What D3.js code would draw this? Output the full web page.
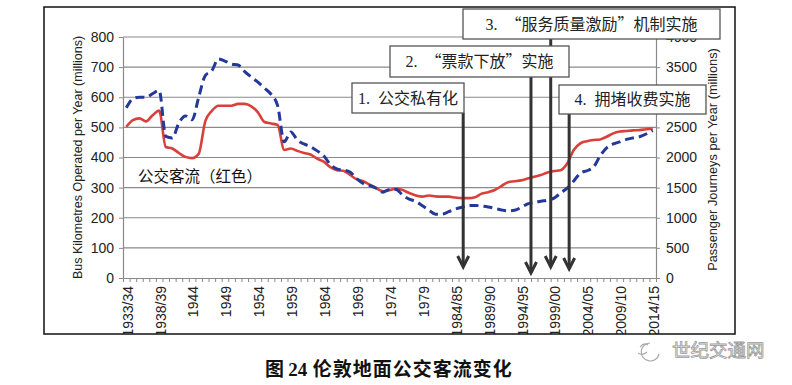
<!DOCTYPE html>
<html><head><meta charset="utf-8">
<script src="https://cdn.jsdelivr.net/npm/d3@7"></script>
<style>body{margin:0;background:#fff}svg{display:block}</style>
</head><body><svg id="c" width="792" height="385"></svg>
<script>
// ---------- data ----------
const categories = [
"1933/34","1934/35","1935/36","1936/37","1937/38","1938/39","1939/40","1940/41","1941/42","1942/43",
"1944","1945","1946","1947","1948","1949","1950","1951","1952","1953",
"1954","1955","1956","1957","1958","1959","1960","1961","1962","1963",
"1964","1965","1966","1967","1968","1969","1970","1971","1972","1973",
"1974","1975","1976","1977","1978","1979","1980","1981","1982","1983",
"1984/85","1985/86","1986/87","1987/88","1988/89","1989/90","1990/91","1991/92","1992/93","1993/94",
"1994/95","1995/96","1996/97","1997/98","1998/99","1999/00","2000/01","2001/02","2002/03","2003/04",
"2004/05","2005/06","2006/07","2007/08","2008/09","2009/10","2010/11","2011/12","2012/13","2013/14",
"2014/15"];
const tickLabels = ["1933/34","1938/39","1944","1949","1954","1959","1964","1969","1974","1979",
"1984/85","1989/90","1994/95","1999/00","2004/05","2009/10","2014/15"];
// Bus kilometres operated per year (millions) - left axis, blue dashed
const busKm = [565,595,600,600,612,622,470,465,515,538,
525,600,672,688,727,720,710,707,685,667,
650,630,610,572,452,485,458,445,436,422,
406,377,362,358,352,330,314,307,298,285,
294,294,275,262,254,240,225,212,212,220,
229,235,240,241,239,236,231,226,223,225,
234,246,250,255,258,265,282,298,322,348,
356,368,405,432,445,452,460,465,469,478,
490];
// Passenger journeys per year (millions) - right axis, red
const journeys = [2510,2620,2650,2600,2700,2780,2175,2150,2075,2010,
1990,2060,2600,2775,2860,2860,2860,2890,2890,2850,
2750,2590,2565,2540,2125,2150,2110,2075,2050,1980,
1930,1840,1790,1780,1710,1640,1605,1550,1490,1440,
1455,1485,1460,1410,1370,1350,1370,1355,1350,1350,
1335,1325,1325,1340,1400,1425,1460,1525,1590,1605,
1620,1650,1680,1710,1750,1775,1790,1900,2125,2235,
2270,2290,2300,2345,2400,2430,2440,2450,2455,2470,
2480];
const leftTicks = [0,100,200,300,400,500,600,700,800];
const rightTicks = [0,500,1000,1500,2000,2500,3000,3500,4000];
// policy events: position on category index, arrow tip in journeys units
const eventLabels = ["1. 公交私有化","2. “票款下放”实施","3. “服务质量激励”机制实施","4. 拥堵收费实施"];
const eventAt = [51.2, 61.5, 64.5, 67.3];
const eventTip = [183, 83, 183, 150];
const seriesLabel = "公交客流（红色）";
const leftTitle = "Bus Kilometres Operated per Year (millions)";
const rightTitle = "Passenger Journeys per Year (millions)";
const caption = ["图 ", "24", " 伦敦地面公交客流变化"];
const watermark = "世纪交通网";

// ---------- layout ----------
const svg = d3.select("#c");
const P = {l:123, r:656, t:37, b:278};
const frame = {x:44, y:7, w:691, h:327};
const boxes = [
  {x:352, y:83, w:112, h:30},
  {x:390, y:46, w:179, h:31},
  {x:463, y:9,  w:257, h:30},
  {x:559, y:85, w:147, h:29}
];
const x = d3.scaleLinear().domain([-0.5, categories.length - 0.5]).range([P.l, P.r]);
const yL = d3.scaleLinear().domain([0, 800]).range([P.b, P.t]);
const yR = d3.scaleLinear().domain([0, 4000]).range([P.b, P.t]);

svg.append("rect").attr("width",792).attr("height",385).attr("fill","#fff");
svg.append("defs").append("clipPath").attr("id","fc").append("rect")
  .attr("x",frame.x).attr("y",frame.y).attr("width",frame.w).attr("height",frame.h);
const g = svg.append("g").attr("clip-path","url(#fc)");

const axisFont = "'Liberation Sans', Arial, sans-serif";
const serifCJK = "'Liberation Serif','Noto Sans CJK SC',serif";
const cjk = "'Noto Sans CJK SC', sans-serif";
const grey = "#8a8a8a";

// gridlines
g.append("g").selectAll("line").data(leftTicks.filter(d=>d>0)).join("line")
  .attr("x1",P.l).attr("x2",P.r).attr("y1",d=>yL(d)).attr("y2",d=>yL(d))
  .attr("stroke",grey).attr("stroke-width",1.1);

// left axis
const la = g.append("g").attr("transform",`translate(${P.l},0)`)
  .call(d3.axisLeft(yL).tickValues(leftTicks).tickSize(4).tickPadding(5).tickSizeOuter(0).tickFormat(d3.format("d")));
// right axis
const ra = g.append("g").attr("transform",`translate(${P.r},0)`)
  .call(d3.axisRight(yR).tickValues(rightTicks).tickSize(4).tickPadding(6).tickSizeOuter(0).tickFormat(d3.format("d")));
// bottom axis: minor ticks
const bt = g.append("g").attr("transform",`translate(0,${P.b})`)
  .call(d3.axisBottom(x).tickValues(d3.range(-0.5, categories.length, 1)).tickSize(4).tickFormat("").tickSizeOuter(0));
// bottom labels
const tickIdx = tickLabels.map(l=>categories.indexOf(l));
const bl = g.append("g").attr("transform",`translate(0,${P.b})`)
  .call(d3.axisBottom(x).tickValues(tickIdx).tickSize(0).tickFormat(i=>categories[i]));
bl.select(".domain").remove();
bl.selectAll("text").attr("transform","rotate(-90)").attr("x",-8).attr("y",1)
  .attr("dy","0.35em").attr("text-anchor","end");

[la,ra,bt,bl].forEach(a=>{
  a.selectAll(".domain").attr("stroke",grey).attr("stroke-width",1.2);
  a.selectAll("line").attr("stroke",grey).attr("stroke-width",1);
  a.selectAll("text").attr("font-family",axisFont).attr("font-size",14).attr("fill","#222");
});

// series
const line = (ys)=>d3.line().x((d,i)=>x(i)).y(d=>ys(d)).curve(d3.curveMonotoneX);
g.append("path").datum(journeys).attr("d",line(yR)).attr("fill","none")
  .attr("stroke","#d8413a").attr("stroke-width",2.6).attr("stroke-linejoin","round");
g.append("path").datum(busKm).attr("d",line(yL)).attr("fill","none")
  .attr("stroke","#24389a").attr("stroke-width",3).attr("stroke-dasharray","9,5");

// series label
g.append("text").attr("x",138).attr("y",182).text(seriesLabel)
  .attr("font-family",cjk).attr("font-size",15.5).attr("fill","#111");

// axis titles
g.append("text").attr("transform",`translate(82,${(P.t+P.b)/2}) rotate(-90)`).attr("text-anchor","middle")
  .attr("font-family",axisFont).attr("font-size",12.5).attr("fill","#222").text(leftTitle);
g.append("text").attr("transform",`translate(717,${(P.t+P.b)/2+2}) rotate(-90)`).attr("text-anchor","middle")
  .attr("font-family",axisFont).attr("font-size",12.8).attr("fill","#222").text(rightTitle);

// events: arrows + boxes
const ev = g.append("g");
eventAt.forEach((at,k)=>{
  const b = boxes[k], ax = x(at), ty = yR(eventTip[k]);
  ev.append("line").attr("x1",ax).attr("x2",ax).attr("y1",b.y+b.h).attr("y2",ty-1)
    .attr("stroke","#333").attr("stroke-width",3);
  ev.append("path").attr("d",`M${ax-5.5},${ty-11}L${ax},${ty}L${ax+5.5},${ty-11}`)
    .attr("fill","none").attr("stroke","#333").attr("stroke-width",3).attr("stroke-linejoin","miter");
});
eventAt.forEach((at,k)=>{
  const b = boxes[k];
  ev.append("rect").attr("x",b.x).attr("y",b.y).attr("width",b.w).attr("height",b.h)
    .attr("fill","#fff").attr("stroke","#555").attr("stroke-width",1.3);
  const lbl = eventLabels[k], sp = lbl.indexOf(" ");
  const t = ev.append("text").attr("x",b.x+b.w/2).attr("y",b.y+b.h/2).attr("dy","0.36em")
    .attr("text-anchor","middle").attr("font-size",16).attr("fill","#222");
  t.append("tspan").attr("font-family",serifCJK).text(lbl.slice(0,sp+1) + "\u00a0");
  t.append("tspan").attr("font-family",cjk).text(lbl.slice(sp+1));
});

// frame
svg.append("rect").attr("x",frame.x).attr("y",frame.y).attr("width",frame.w).attr("height",frame.h)
  .attr("fill","none").attr("stroke","#111").attr("stroke-width",1.5);

// caption
const cap = svg.append("text").attr("x",265).attr("y",376).attr("font-size",19).attr("fill","#111");
cap.append("tspan").attr("font-family",cjk).attr("font-weight",600).text(caption[0]);
cap.append("tspan").attr("font-family","'Liberation Serif',serif").attr("font-weight","bold").text(caption[1]);
cap.append("tspan").attr("font-family",cjk).attr("font-weight",600).attr("letter-spacing",1).text("\u00a0" + caption[2].trim());

// watermark
const wm = svg.append("g").attr("fill","none").attr("stroke","#aaa").attr("stroke-width",1.2);
wm.append("path").attr("d","M650,343 A9,9 0 1,0 659,354");
wm.append("path").attr("d","M640,347 q4,-5 8,-2 M638,353 q5,3 9,-1");
svg.append("text").attr("x",672).attr("y",357).text(watermark)
  .attr("font-family",cjk).attr("font-size",18.5).attr("fill","#fff")
  .attr("stroke","#999").attr("stroke-width",0.8);
</script></body></html>
